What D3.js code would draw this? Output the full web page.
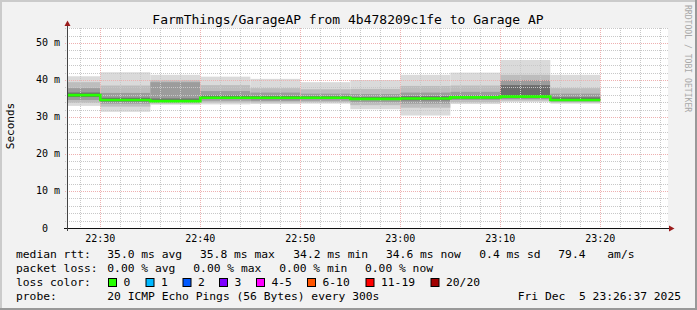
<!DOCTYPE html>
<html>
<head>
<meta charset="utf-8">
<script src="https://cdn.jsdelivr.net/npm/d3@7"></script>
<style>
	body { margin: 0; background: #f2f2f2; }
	svg text { font-family: "DejaVu Sans Mono", monospace; white-space: pre; }
</style>
</head>
<body>
<div id="chart"></div>
<script>

// end time of each 5 minute step (the step covers the 5 minutes before it)
const stepEnds = ['22:30', '22:35', '22:40', '22:45', '22:50', '22:55', '23:00', '23:05', '23:10', '23:15', '23:20'];

// ping rtt spread per step, in ms
const pingMin = [33.0, 31.4, 33.3, 33.4, 33.5, 33.6, 32.1, 30.4, 33.5, 34.0, 33.6];
const ping10  = [33.8, 32.8, 33.6, 33.9, 33.9, 34.0, 33.2, 32.5, 34.0, 34.4, 33.9];
const ping25  = [34.6, 33.6, 33.9, 34.4, 34.3, 34.4, 34.0, 33.6, 34.6, 34.8, 34.2];
const ping40  = [35.4, 34.2, 34.1, 34.9, 34.8, 34.9, 34.6, 34.5, 35.0, 35.1, 34.4];
const medianRtt = [35.9, 34.6, 34.3, 35.2, 35.2, 35.2, 34.9, 35.0, 35.3, 35.5, 34.6];
const ping60  = [36.6, 35.2, 35.0, 35.8, 35.7, 35.6, 35.4, 35.6, 35.8, 38.6, 35.3];
const ping75  = [37.8, 36.5, 39.4, 37.0, 36.6, 36.3, 36.2, 36.6, 36.8, 40.0, 36.3];
const ping90  = [39.4, 38.5, 40.0, 38.6, 37.8, 37.5, 37.6, 38.4, 38.5, 41.4, 37.8];
const pingMax = [41.0, 42.1, 41.4, 40.9, 40.3, 39.4, 40.0, 41.4, 42.0, 45.4, 41.4];

const yTicks = [0, 10, 20, 30, 40, 50];
const xTicks = ['22:30', '22:40', '22:50', '23:00', '23:10', '23:20'];

const lossLabels = ['0', '1', '2', '3', '4-5', '6-10', '11-19', '20/20'];
const lossColors = ['#26ff00', '#00b8ff', '#0059ff', '#7e00ff', '#ff00ff', '#ff5500', '#ff0000', '#a10000'];

const rttStats = ['35.0 ms avg', '35.8 ms max', '34.2 ms min', '34.6 ms now', '0.4 ms sd', '79.4', 'am/s'];
const lossStats = ['0.00 % avg', '0.00 % max', '0.00 % min', '0.00 % now'];

const title = 'FarmThings/GarageAP from 4b478209c1fe to Garage AP';
const probeText = '20 ICMP Echo Pings (56 Bytes) every 300s';
const stampText = 'Fri Dec  5 23:26:37 2025';

let width = 697,
	height = 310,
	plotLeft = 67,
	plotRight = 667,
	plotTop = 28,
	plotBottom = 228;

let parseTime = d3.timeParse('%Y-%m-%d %H:%M:%S');
let day = '2025-12-05 ';
let tEnd = parseTime(day + '23:26:37');
let tStart = parseTime(day + '22:26:37');

let x = d3.scaleTime()
	.domain([tStart, tEnd])
	.range([plotLeft - 0.5, plotRight - 0.5]);

let y = d3.scaleLinear()
	.domain([0, 54.05])
	.range([plotBottom, plotTop]);

let svg = d3.select('#chart')
	.append('svg')
	.attr('width', width)
	.attr('height', height);

// frame
svg.append('rect').attr('width', width).attr('height', height).attr('fill', '#f2f2f2');
svg.append('rect').attr('x', 0).attr('y', 0).attr('width', width).attr('height', 2).attr('fill', '#cbcbcb');
svg.append('rect').attr('x', 0).attr('y', 0).attr('width', 2).attr('height', height).attr('fill', '#cbcbcb');
svg.append('rect').attr('x', 0).attr('y', height - 2).attr('width', width).attr('height', 2).attr('fill', '#999999');
svg.append('rect').attr('x', width - 2).attr('y', 0).attr('width', 2).attr('height', height).attr('fill', '#999999');

// canvas
svg.append('rect')
	.attr('x', plotLeft)
	.attr('y', plotTop)
	.attr('width', plotRight - plotLeft + 1)
	.attr('height', plotBottom - plotTop)
	.attr('fill', 'white');

// smoke
let steps = stepEnds.map((s, i) => {
	let end = parseTime(day + s + ':00');
	return {
		start: d3.timeMinute.offset(end, -5),
		end: end,
		bands: [
			[pingMin[i], pingMax[i]],
			[ping10[i], ping90[i]],
			[ping25[i], ping75[i]],
			[ping40[i], ping60[i]]
		],
		median: medianRtt[i]
	};
});

let bandColors = ['#dadada', '#bdbdbd', '#9c9c9c', '#6c6c6c'];

steps.forEach(function (d) {
	let x0 = Math.max(x(d.start), plotLeft),
		x1 = x(d.end);
	d.bands.forEach(function (b, k) {
		svg.append('rect')
			.attr('x', x0)
			.attr('y', y(b[1]))
			.attr('width', x1 - x0)
			.attr('height', y(b[0]) - y(b[1]))
			.attr('fill', bandColors[k]);
	});
});

// grid, drawn over the smoke like rrdtool does
let minorY = d3.range(0, 54.05, 2).filter(v => v % 10 != 0);
let minorX = d3.timeMinute.every(2).range(tStart, tEnd).filter(t => t.getMinutes() % 10 != 0);
let majorX = xTicks.map(s => parseTime(day + s + ':00'));

svg.selectAll('.gy')
	.data(minorY)
	.enter().append('line')
	.attr('x1', plotLeft - 2).attr('x2', plotRight + 1)
	.attr('y1', d => Math.round(y(d)) + 0.5).attr('y2', d => Math.round(y(d)) + 0.5)
	.attr('stroke', '#c8c8c8')
	.attr('stroke-dasharray', '1,1');

svg.selectAll('.gx')
	.data(minorX)
	.enter().append('line')
	.attr('y1', plotTop).attr('y2', plotBottom + 2)
	.attr('x1', d => Math.round(x(d)) + 0.5).attr('x2', d => Math.round(x(d)) + 0.5)
	.attr('stroke', '#c8c8c8')
	.attr('stroke-dasharray', '1,1');

svg.selectAll('.my')
	.data(yTicks.slice(1))
	.enter().append('line')
	.attr('x1', plotLeft - 2).attr('x2', plotRight + 1)
	.attr('y1', d => Math.round(y(d)) + 0.5).attr('y2', d => Math.round(y(d)) + 0.5)
	.attr('stroke', '#eeb0b0')
	.attr('stroke-dasharray', '1,1');

svg.selectAll('.mx')
	.data(majorX)
	.enter().append('line')
	.attr('y1', plotTop).attr('y2', plotBottom + 2)
	.attr('x1', d => Math.round(x(d)) + 0.5).attr('x2', d => Math.round(x(d)) + 0.5)
	.attr('stroke', '#eeb0b0')
	.attr('stroke-dasharray', '1,1');

// median line, coloured by loss (all 0 here)
let medianPoints = [[tStart, medianRtt[0]]].concat(steps.map(d => [d.end, d.median]));
let medianLine = d3.line()
	.x(d => Math.max(x(d[0]), plotLeft))
	.y(d => y(d[1]))
	.curve(d3.curveStepBefore);

svg.append('path')
	.datum(medianPoints)
	.attr('d', medianLine)
	.attr('fill', 'none')
	.attr('stroke', lossColors[0])
	.attr('stroke-width', 2.6);

// axes
svg.append('line')
	.attr('x1', plotLeft - 3).attr('x2', 670)
	.attr('y1', plotBottom + 0.5).attr('y2', plotBottom + 0.5)
	.attr('stroke', '#111');
svg.append('line')
	.attr('x1', plotLeft + 0.5).attr('x2', plotLeft + 0.5)
	.attr('y1', plotBottom + 3).attr('y2', 25)
	.attr('stroke', '#444');
svg.append('path')
	.attr('d', 'M669,225.5 L674.5,228.5 L669,231.5 Z')
	.attr('fill', '#9b1c1c');
svg.append('path')
	.attr('d', 'M64.5,26 L67.5,20.5 L70.5,26 Z')
	.attr('fill', '#9b1c1c');

// tick labels
svg.selectAll('.yl')
	.data(yTicks)
	.enter().append('text')
	.attr('x', 60)
	.attr('y', d => y(d) + 3.5)
	.attr('text-anchor', 'end')
	.style('font-size', '10px')
	.text(d => d == 0 ? '0  ' : d + ' m');

svg.selectAll('.xl')
	.data(majorX)
	.enter().append('text')
	.attr('x', d => x(d))
	.attr('y', 241.5)
	.attr('text-anchor', 'middle')
	.style('font-size', '10px')
	.text(d => d3.timeFormat('%H:%M')(d));

// title and side texts
svg.append('text')
	.attr('x', 348)
	.attr('y', 24)
	.attr('text-anchor', 'middle')
	.style('font-size', '13px')
	.text(title);

svg.append('text')
	.attr('transform', 'translate(14,126) rotate(-90)')
	.attr('text-anchor', 'middle')
	.style('font-size', '11px')
	.text('Seconds');

svg.append('text')
	.attr('transform', 'translate(685,5) rotate(90)')
	.style('font-size', '8.1px')
	.style('fill', '#a8a8a8')
	.text('RRDTOOL / TOBI OETIKER');

// legend
let legendFont = '11.3px';
let rows = [258, 272, 286, 300];

function legendText(xPos, yPos, s) {
	svg.append('text')
		.attr('x', xPos)
		.attr('y', yPos)
		.style('font-size', legendFont)
		.text(s);
}

legendText(16, rows[0], 'median rtt:');
[107.3, 200, 293.3, 386, 479.3, 558.3, 607.3].forEach((xp, i) => legendText(xp, rows[0], rttStats[i]));

legendText(16, rows[1], 'packet loss:');
[107.3, 193.3, 279.3, 365].forEach((xp, i) => legendText(xp, rows[1], lossStats[i]));

legendText(16, rows[2], 'loss color:');
let swatchX = [108.5, 146, 183, 219.5, 256.5, 307.5, 366, 431];
lossLabels.forEach(function (l, i) {
	svg.append('rect')
		.attr('x', swatchX[i])
		.attr('y', 278.5)
		.attr('width', 8)
		.attr('height', 8)
		.attr('fill', lossColors[i])
		.attr('stroke', '#000');
	legendText(swatchX[i] + 15, rows[2], l);
});

legendText(16, rows[3], 'probe:');
legendText(107.3, rows[3], probeText);
svg.append('text')
	.attr('x', 681)
	.attr('y', rows[3])
	.attr('text-anchor', 'end')
	.style('font-size', legendFont)
	.text(stampText);

</script>
</body>
</html>
